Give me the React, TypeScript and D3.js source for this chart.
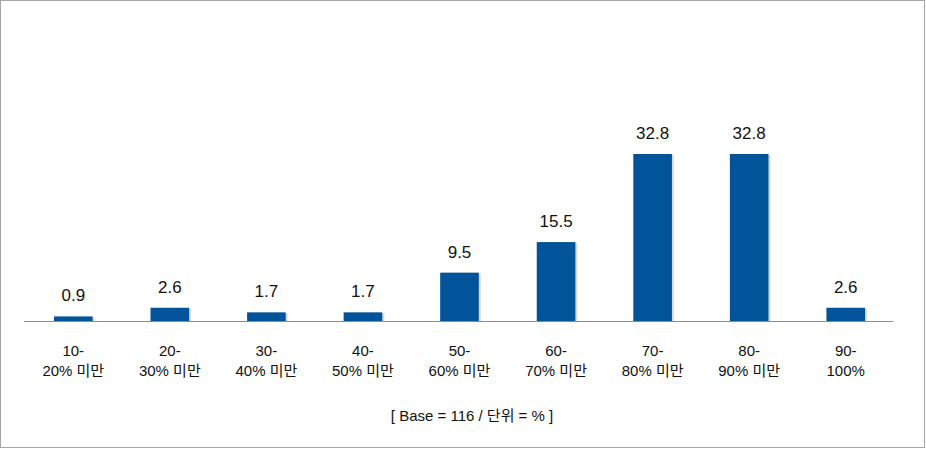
import React from "react";
import * as d3 from "d3";

const categories: string[][] = [
  ["10-", "20% 미만"],
  ["20-", "30% 미만"],
  ["30-", "40% 미만"],
  ["40-", "50% 미만"],
  ["50-", "60% 미만"],
  ["60-", "70% 미만"],
  ["70-", "80% 미만"],
  ["80-", "90% 미만"],
  ["90-", "100%"],
];
const values: number[] = [0.9, 2.6, 1.7, 1.7, 9.5, 15.5, 32.8, 32.8, 2.6];
const footer = "[ Base = 116 / 단위 = % ]";

const W = 926;
const H = 449;
const baseY = 321;
const font = "'Liberation Sans', Arial, 'Noto Sans CJK KR', sans-serif";

export default function App() {
  const x = d3
    .scaleBand<number>()
    .domain(values.map((_, i) => i))
    .range([25, 894])
    .paddingInner(0.6)
    .paddingOuter(0.3);
  const y = d3.scaleLinear().domain([0, 32.8]).range([baseY, 154]);
  const bw = x.bandwidth();

  return (
    <svg
      width={W}
      height={H}
      style={{ position: "absolute", left: 0, top: 0, background: "#fff" }}
      fontFamily={font}
    >
      <rect x={0.5} y={0.5} width={W - 2} height={H - 2} fill="#fff" stroke="#a6a6a6" />
      {values.map((v, i) => {
        const x0 = x(i)!;
        const top = y(v);
        return (
          <g key={i}>
            <rect x={x0 + 2} y={top + 1} width={bw} height={baseY - top - 1} fill="#d9d9d9" />
            <rect x={x0} y={top} width={bw} height={baseY - top} fill="#02549a" />
            <text
              x={x0 + bw / 2}
              y={top - 15}
              textAnchor="middle"
              fontSize={17}
              fill="#111"
            >
              {v.toFixed(1)}
            </text>
          </g>
        );
      })}
      <line x1={24} x2={893} y1={baseY + 0.5} y2={baseY + 0.5} stroke="#8c8c8c" strokeWidth={1} />
      {categories.map((lines, i) => (
        <text
          key={i}
          x={x(i)! + bw / 2}
          textAnchor="middle"
          fontSize={15}
          fill="#111"
        >
          {lines.map((l, j) => (
            <tspan key={j} x={x(i)! + bw / 2} y={356 + j * 20}>
              {l}
            </tspan>
          ))}
        </text>
      ))}
      <text x={472} y={421} textAnchor="middle" fontSize={15} fill="#111">
        {footer}
      </text>
    </svg>
  );
}
